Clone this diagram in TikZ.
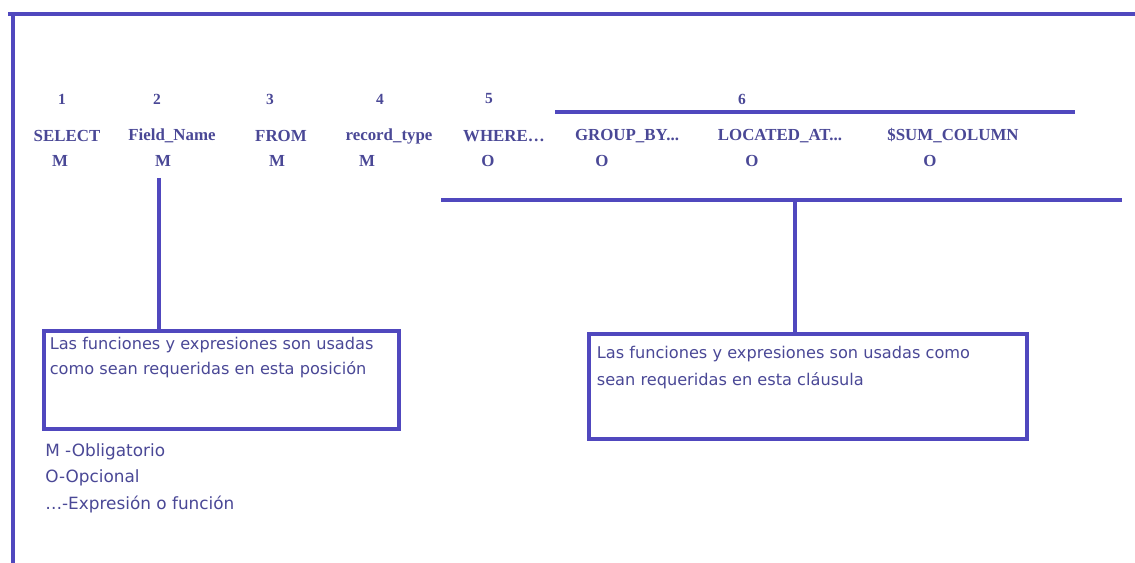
\documentclass[tikz,border=0pt]{standalone}
\usepackage{fontspec}
\setmainfont{Liberation Serif}
\newfontfamily\notefont{DejaVu Sans}
\usepackage{tikz}
\usetikzlibrary{calc, positioning}

\definecolor{framecol}{RGB}{80,72,190}
\definecolor{inkcol}{RGB}{74,72,150}

\tikzset{
    kw/.style={text=inkcol, inner sep=0pt, font=\bfseries\fontsize{12}{14}\selectfont},
    req/.style={text=inkcol, inner sep=0pt, font=\bfseries\fontsize{12}{14}\selectfont},
    posnum/.style={text=inkcol, inner sep=0pt, font=\bfseries\fontsize{11}{13}\selectfont},
    bar/.style={draw=framecol, line width=2.6pt},
    notebox/.style={draw=framecol, line width=2.6pt, anchor=north west, text=inkcol},
    legend/.style={anchor=west, text=inkcol, inner sep=0pt, font=\notefont\fontsize{12}{14}\selectfont}
}

\begin{document}
\begin{tikzpicture}[x=0.025cm, y=-0.025cm]
           \useasboundingbox (0,0) rectangle (1135,563);

           % frame
           \draw[bar] (8,14) -- (1135,14);
           \draw[bar] (13,14) -- (13,563);

           % positions
           \node[posnum] (n1) at (62,99) {1};
           \node[posnum] (n2) at (157,99) {2};
           \node[posnum] (n3) at (270,99) {3};
           \node[posnum] (n4) at (380,99) {4};
           \node[posnum] (n5) at (489,99) {5};
           \node[posnum] (n6) at (742,99) {6};
            \coordinate (g6a) at (555,112);
            \coordinate (g6b) at (1075,112);
            \draw[bar] (g6a) -- (g6b);

           % clauses
           \node[kw] (k1) at (67,136) {SELECT};
           \node[kw] (k2) at (172,136) {Field\_Name};
           \node[kw] (k3) at (281,136) {FROM};
           \node[kw] (k4) at (389,136) {record\_type};
           \node[kw] (k5) at (504,136) {WHERE…};
           \node[kw] (k6) at (627,136) {GROUP\_BY...};
           \node[kw] (k7) at (780,136) {LOCATED\_AT...};
           \node[kw] (k8) at (953,136) {\$SUM\_COLUMN};

           \node[req] (m1) at (60,161) {M};
           \node[req] (m2) at (163,161) {M};
           \node[req] (m3) at (277,161) {M};
           \node[req] (m4) at (367,161) {M};
           \node[req] (o5) at (488,161) {O};
           \node[req] (o6) at (602,161) {O};
           \node[req] (o7) at (752,161) {O};
           \node[req] (o8) at (930,161) {O};

           % notes
           \node[notebox, inner sep=0.15cm] (boxL) at (42,329)
               {\parbox[c][2.15cm][t]{8.575cm}{\notefont\fontsize{11.5}{17.8}\selectfont
                Las funciones y expresiones son usadas\\
                como sean requeridas en esta posición}};
           \node[notebox, inner sep=0.2cm] (boxR) at (587,332)
               {\parbox[c][2.225cm][t]{10.55cm}{\notefont\fontsize{11.5}{19.2}\selectfont
                \vspace{0.1cm}Las funciones y expresiones son usadas como\\
                sean requeridas en esta cláusula}};

            \coordinate (lc) at (159,178);
            \draw[bar] (lc) -- (lc |- boxL.north);

            \coordinate (brA) at (441,200);
            \coordinate (brB) at (1122,200);
            \coordinate (brk) at (795,200);
            \draw[bar] (brA) -- (brB);
            \draw[bar] (brk) -- (brk |- boxR.north);

           % legend
           \node[legend] (lg1) at (45,452) {M -Obligatorio};
           \node[legend] (lg2) at (45,478) {O-Opcional};
           \node[legend] (lg3) at (45,505) {…-Expresión o función};
       \end{tikzpicture}
\end{document}
